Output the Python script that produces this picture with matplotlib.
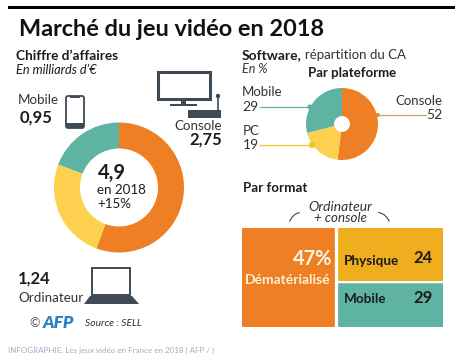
import matplotlib
matplotlib.use("Agg")
import matplotlib.pyplot as plt
from matplotlib.patches import Rectangle, FancyBboxPatch, Polygon, Circle, FancyArrowPatch

plt.rcParams['font.family'] = ['Lato', 'DejaVu Sans']

# data
ca_labels = ["Console", "Ordinateur", "Mobile"]
ca_values = [2.75, 1.24, 0.95]
soft_labels = ["Console", "PC", "Mobile"]
soft_values = [52, 19, 29]
format_labels = ["Dématérialisé", "Physique", "Mobile"]
format_values = [47, 24, 29]

orange = "#EE7F24"
yellow = "#FDD14F"
teal = "#5FB3A3"
amber = "#EFAE1D"
dark = "#3F4A54"
ink = "#1c1c1c"

W, H = 460, 360
fig = plt.figure(figsize=(W / 100, H / 100), dpi=100, facecolor="white")


def px_axes(x0, y0, x1, y1):
    # axes placed with pixel coords, y going down
    return fig.add_axes([x0 / W, 1 - y1 / H, (x1 - x0) / W, (y1 - y0) / H])


# overlay for text and icons
ov = fig.add_axes([0, 0, 1, 1], zorder=5)
ov.set_xlim(0, W)
ov.set_ylim(H, 0)
ov.axis("off")
ov.patch.set_alpha(0)


def t(x, y, s, size=10, w="normal", c=ink, ha="left", style="normal"):
    ov.text(x, y, s, fontsize=size, fontweight=w, color=c, ha=ha, va="center", fontstyle=style)


# donut
ax1 = px_axes(54, 122.5, 184, 252.5)
ax1.pie(ca_values, colors=[orange, yellow, teal], startangle=90, counterclock=False,
        radius=1, wedgeprops=dict(width=0.4), normalize=True)
ax1.set_xlim(-1, 1)
ax1.set_ylim(-1, 1)

# pie
ax2 = px_axes(306, 88, 378, 160)
ax2.pie(soft_values, colors=[orange, yellow, teal], startangle=90, counterclock=False,
        radius=1, wedgeprops=dict(width=0.78), normalize=True)
ax2.set_xlim(-1, 1)
ax2.set_ylim(-1, 1)

# format blocks, widths and heights come from the values
ax3 = px_axes(242, 228, 443, 327)
ax3.set_xlim(0, 100)
ax3.set_ylim(0, 53)
ax3.axis("off")
gap_x, gap_y, rad = 0.8, 0.6, 0.6
dem, phy, mob = format_values
aspect = (100 / 201) / (53 / 99)
boxes = [
    (0, 0, dem - gap_x, phy + mob, orange),
    (dem + gap_x, phy + gap_y, phy + mob, mob - gap_y, amber),
    (dem + gap_x, 0, phy + mob, phy - gap_y, teal),
]
for x, y, bw, bh, col in boxes:
    ax3.add_patch(FancyBboxPatch((x + rad, y + rad), bw - 2 * rad, bh - 2 * rad,
                                 boxstyle="round,pad=%f,rounding_size=%f" % (rad, rad),
                                 mutation_aspect=1 / aspect, fc=col, ec="none"))

# title
ov.add_patch(Rectangle((8, 6), 447, 3, fc="black", ec="none"))
t(19, 30, "Marché du jeu vidéo en 2018", 16.9, "bold", "#111111")

# left panel text
t(16, 56, "Chiffre d’affaires", 9.8, "bold")
t(16, 70, "En milliards d’€", 9.2, style="italic")
t(18, 100, "Mobile", 9.6, c="#333333")
t(20, 118, "0,95", 12, "bold")
t(222, 126, "Console", 9.6, c="#333333", ha="right")
t(222, 140, "2,75", 12, "bold", ha="right")
t(112, 173, "4,9", 14.5, "bold", ha="center")
t(97, 190, "en 2018", 9.6)
t(97, 204, "+15%", 9.6)
t(18, 279, "1,24", 12, "bold")
t(18, 298, "Ordinateur", 9.6, c="#333333")
t(29, 323, "©", 9, c="#555555")
t(43, 323, "AFP", 12.5, "heavy", "#2A82C4", style="italic")
t(85, 324, "Source : SELL", 7.4, style="italic", c="#333333")
t(8, 350, "INFOGRAPHIE. Les jeux vidéo en France en 2018 ( AFP / )", 5.8, c="#9fb0c2")

# right panel text
t(242, 55, "Software,", 10, "bold")
t(305, 55, "répartition du CA", 9.5, c="#333333")
t(242, 69, "En %", 9, style="italic", c="#333333")
t(352, 73, "Par plateforme", 9.5, "bold", ha="center")
t(242, 92, "Mobile", 9.5, c="#333333")
t(242, 107, "29", 10, c="#333333")
t(442, 101, "Console", 9.5, c="#333333", ha="right")
t(442, 115, "52", 10, c="#333333", ha="right")
t(243, 131, "PC", 9.5, c="#333333")
t(243, 145, "19", 10, c="#333333")
t(243, 188, "Par format", 9.6, "bold")
t(340, 207, "Ordinateur", 10, style="italic", ha="center", c="#333333")
t(340, 218, "+ console", 9.6, style="italic", ha="center", c="#333333")
t(332, 259, "47%", 14.5, "bold", "#FFF6E6", ha="right")
t(331, 280, "Dématérialisé", 10, "bold", "#FDF0D5", ha="right")
t(344, 261, "Physique", 9.7, "bold")
t(413, 258, "24", 12, "bold")
t(344, 299, "Mobile", 9.7, "bold")
t(413, 298, "29", 12, "bold")

# leader lines
ov.plot([260, 310], [107, 107], color=teal, lw=0.9)
ov.add_patch(Circle((310, 107), 2.6, fc=teal, ec="none"))
ov.plot([260, 312], [145, 145], color="#E9C92E", lw=0.9)
ov.add_patch(Circle((312, 145), 3, fc="#F0C419", ec="none"))
ov.plot([378, 426], [115, 115], color="#C9A66B", lw=0.9)
ov.add_patch(Circle((378, 115), 2, fc=orange, ec="none"))

# curved arrows above the blocks
ov.add_patch(FancyArrowPatch((302, 212), (289, 224), connectionstyle="arc3,rad=0.35",
                             arrowstyle="-", lw=0.8, color="#444444"))
ov.add_patch(FancyArrowPatch((376, 212), (390, 224), connectionstyle="arc3,rad=-0.35",
                             arrowstyle="-", lw=0.8, color="#444444"))

# tv icon
ov.add_patch(Rectangle((158.5, 71.5), 52, 27, fc="white", ec=dark, lw=2.2))
ov.add_patch(Rectangle((181, 99), 5, 5, fc=dark, ec="none"))
ov.add_patch(Rectangle((170, 103.5), 27, 2, fc=dark, ec="none"))
ov.add_patch(Rectangle((188, 110), 33, 8, fc=dark, ec="none"))
ov.plot([218, 218], [96, 110], color=dark, lw=1.2)
ov.add_patch(Circle((218, 96), 2.2, fc=dark, ec="none"))

# phone icon
ov.add_patch(FancyBboxPatch((66, 96), 18, 32, boxstyle="round,pad=0,rounding_size=2",
                            fc="white", ec=dark, lw=1.3))
ov.add_patch(Rectangle((66, 123), 18, 5, fc=dark, ec="none"))
ov.add_patch(Rectangle((70, 96), 10, 1.5, fc=dark, ec="none"))

# laptop icon
ov.add_patch(Rectangle((92, 268), 38, 27, fc="white", ec=dark, lw=1.4))
ov.add_patch(Polygon([(90, 296), (132, 296), (139, 304), (84, 304)], fc=dark, ec="none"))

fig.savefig("out.png", dpi=100, facecolor="white")
